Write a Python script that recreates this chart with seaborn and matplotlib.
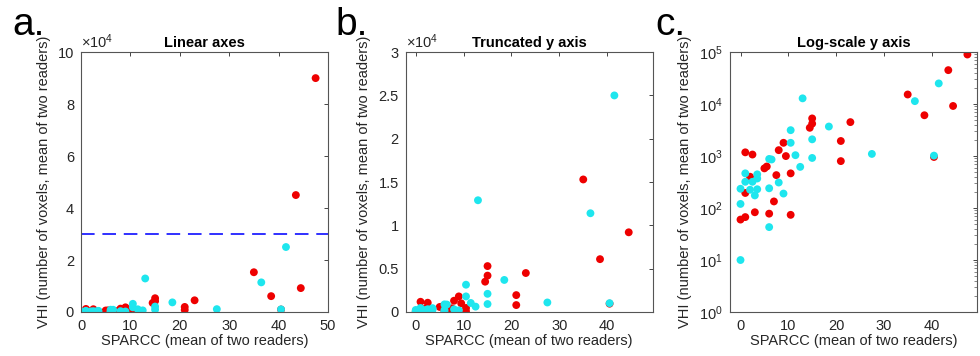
import matplotlib
matplotlib.use("Agg")
import matplotlib.pyplot as plt
import matplotlib.ticker as mticker
import numpy as np
import pandas as pd
import seaborn as sns

# SPARCC score (mean of two readers) and VHI voxel count, two groups
red_x = [0, 1, 1, 1, 2, 2.5, 3, 5, 5.5, 6, 7, 7.5, 8, 9, 9.5, 10.5, 10.5,
         14.5, 15, 15, 21, 21, 23, 35, 38.5, 40.5, 43.5, 44.5, 47.5]
red_y = [60, 67, 195, 1180, 400, 1070, 83, 580, 630, 78, 134, 430, 1300,
         1800, 1000, 465, 74, 3500, 4200, 5300, 1950, 800, 4500, 15300,
         6100, 960, 45000, 9200, 90000]

cyan_x = [0, 0, 0, 1, 1, 2, 2.5, 3, 3.5, 3.5, 3.5, 6, 6, 6, 6.5, 8, 9,
          10.5, 10.5, 11.5, 12.5, 13, 15, 15, 18.5, 27.5, 36.5, 40.5, 41.5]
cyan_y = [10, 120, 235, 320, 465, 225, 320, 175, 230, 370, 445, 43, 240,
          880, 860, 310, 190, 1800, 3150, 1040, 620, 12900, 920, 2100, 3700,
          1100, 11400, 1020, 25000]

threshold = 30000

titles = ["Linear axes", "Truncated y axis", "Log-scale y axis"]
panel_letters = ["a.", "b.", "c."]

df = pd.DataFrame({
    "sparcc": red_x + cyan_x,
    "vhi": red_y + cyan_y,
    "group": ["red"] * len(red_x) + ["cyan"] * len(cyan_x),
})

sns.set_style("white")
plt.rcParams["font.family"] = ["Liberation Sans", "DejaVu Sans"]
plt.rcParams["mathtext.fontset"] = "custom"
plt.rcParams["mathtext.rm"] = "Liberation Sans"
plt.rcParams["mathtext.it"] = "Liberation Sans:italic"
plt.rcParams["mathtext.default"] = "regular"

text_col = "#262626"
spine_col = "#555555"
palette = {"red": "#ee0000", "cyan": "#1ee6ee"}

fig = plt.figure(figsize=(9.8, 3.56), dpi=100)
lefts = [81 / 980, 405.7 / 980, 730 / 980]
axes = [fig.add_axes([l, 0.1236, 0.252, 0.730]) for l in lefts]
letter_x = [12, 335, 655]

for i, ax in enumerate(axes):
    sns.scatterplot(data=df, x="sparcc", y="vhi", hue="group",
                    palette=palette, s=32, linewidth=0, ax=ax, legend=False)
    ax.set_title(titles[i], fontsize=10.5, fontweight="bold", color="black", pad=4)
    ax.set_xlabel("SPARCC (mean of two readers)", fontsize=10.5, color=text_col, labelpad=1)
    ax.set_ylabel("VHI (number of voxels, mean of two readers)", fontsize=10.5,
                  color=text_col, labelpad=5)
    ax.tick_params(direction="in", top=True, right=True, labelsize=10.5,
                   colors=text_col, length=3, width=0.6, pad=5)
    for sp in ax.spines.values():
        sp.set_color(spine_col)
        sp.set_linewidth(0.8)
    fig.text(letter_x[i] / 980, 1 - 35 / 356, panel_letters[i],
             fontsize=28, ha="left", va="baseline", color="black")

# a. linear axes
ax = axes[0]
ax.axhline(threshold, color="#3030ff", lw=1.4, dashes=(7, 4))
ax.set_xlim(0, 50)
ax.set_xticks([0, 10, 20, 30, 40, 50])
ax.set_ylim(0, 100000)
ax.set_yticks(np.arange(0, 100001, 20000))
ax.yaxis.set_major_formatter(mticker.FuncFormatter(lambda v, p: f"{v / 1e4:g}"))
ax.text(0.0, 1.005, r"$\times10^4$", transform=ax.transAxes, fontsize=10.5,
        color=text_col, ha="left", va="bottom")

# b. truncated y axis
ax = axes[1]
ax.set_xlim(-2.1, 49.5)
ax.set_xticks([0, 10, 20, 30, 40])
ax.set_ylim(0, 30000)
ax.set_yticks(np.arange(0, 30001, 5000))
ax.yaxis.set_major_formatter(mticker.FuncFormatter(lambda v, p: f"{v / 1e4:g}"))
ax.text(0.0, 1.005, r"$\times10^4$", transform=ax.transAxes, fontsize=10.5,
        color=text_col, ha="left", va="bottom")

# c. log-scale y axis
ax = axes[2]
ax.set_yscale("log")
ax.set_xlim(-2.2, 49.5)
ax.set_xticks([0, 10, 20, 30, 40])
ax.set_ylim(1, 1e5)
ax.set_yticks([1, 10, 100, 1e3, 1e4, 1e5])
ax.tick_params(which="minor", direction="in", right=True, length=2,
               width=0.5, colors=spine_col)

fig.savefig("out.png", dpi=100)
